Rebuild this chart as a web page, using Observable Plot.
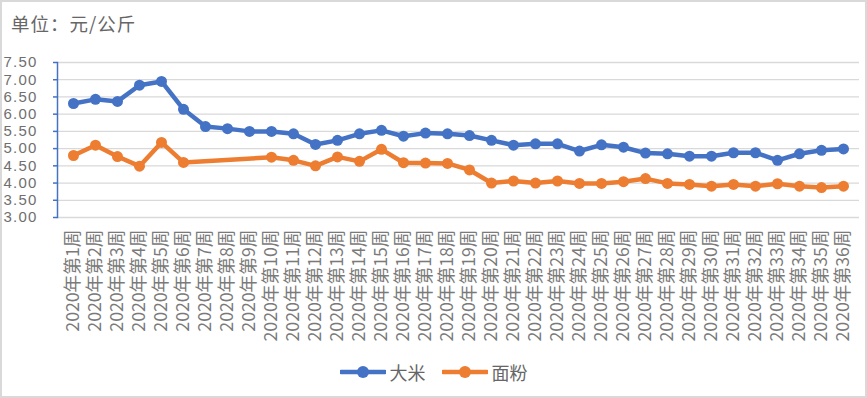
<!DOCTYPE html>
<html>
<head>
<meta charset="utf-8">
<script src="https://cdn.jsdelivr.net/npm/d3@7"></script>
<script src="https://cdn.jsdelivr.net/npm/@observablehq/plot@0.6"></script>
<style>
  html, body { margin: 0; padding: 0; background: #fff; }
  #wrap { position: relative; width: 867px; height: 398px; overflow: hidden; font-family: "Noto Sans CJK SC", sans-serif; color: #595959; }
  #border { position: absolute; left: 0; top: 0; width: 863px; height: 394px; border: 2px solid #d9d9d9; pointer-events: none; }
  #title { position: absolute; left: 11px; top: 14px; font-size: 18.5px; line-height: 18px; letter-spacing: 1px; color: #666; white-space: nowrap; }
  #chart { position: absolute; left: 0; top: 0; }
  #legend { position: absolute; left: 0; top: 359px; width: 867px; height: 26px; display: flex; justify-content: center; align-items: center; font-size: 18px; color: #666; gap: 16px; }
  .item { display: flex; align-items: center; gap: 4px; }
  .yax text { letter-spacing: 1.2px; }
</style>
</head>
<body>
<div id="wrap">
  <div id="chart"></div>
  <div id="title">单位：元/公斤</div>
  <div id="legend"></div>
  <div id="border"></div>
</div>
<script>
const weeks = ["2020年第1周","2020年第2周","2020年第3周","2020年第4周","2020年第5周","2020年第6周","2020年第7周","2020年第8周","2020年第9周","2020年第10周","2020年第11周","2020年第12周","2020年第13周","2020年第14周","2020年第15周","2020年第16周","2020年第17周","2020年第18周","2020年第19周","2020年第20周","2020年第21周","2020年第22周","2020年第23周","2020年第24周","2020年第25周","2020年第26周","2020年第27周","2020年第28周","2020年第29周","2020年第30周","2020年第31周","2020年第32周","2020年第33周","2020年第34周","2020年第35周","2020年第36周"];
const rice  = [6.31,6.43,6.37,6.84,6.95,6.14,5.64,5.58,5.50,5.50,5.43,5.12,5.24,5.43,5.53,5.36,5.45,5.43,5.38,5.24,5.10,5.14,5.14,4.93,5.11,5.04,4.87,4.85,4.78,4.78,4.88,4.88,4.66,4.85,4.95,4.99];
const flour = [4.80,5.10,4.77,4.49,5.18,4.60,null,null,null,4.75,4.66,4.50,4.76,4.63,4.98,4.59,4.58,4.57,4.38,4.00,4.06,4.00,4.06,3.99,3.99,4.04,4.13,3.99,3.96,3.91,3.96,3.91,3.98,3.91,3.87,3.91];
const yTicks = [3.0,3.5,4.0,4.5,5.0,5.5,6.0,6.5,7.0,7.5];
const seriesNames = ["大米","面粉"];
const colors = ["#4472C4","#ED7D31"];

const riceData = weeks.map((w,i) => ({week: w, v: rice[i]}));
const flourData = weeks.map((w,i) => ({week: w, v: flour[i]})).filter(d => d.v != null);

const chart = Plot.plot({
  width: 867,
  height: 360,
  marginLeft: 57,
  marginRight: 8,
  marginTop: 62,
  marginBottom: 143,
  style: {fontFamily: "'Noto Sans CJK SC', sans-serif", fontSize: "17.7px", color: "#777", background: "transparent"},
  x: {type: "band", domain: weeks, padding: 0, label: null},
  y: {domain: [3, 7.5], label: null},
  marks: [
    Plot.gridY(yTicks, {stroke: "#d9d9d9", strokeOpacity: 1, strokeWidth: 1.3}),
    Plot.axisY(yTicks, {tickSize: 0, tickPadding: 20, tickFormat: d => d.toFixed(2), fill: "#6f6f6f", label: null, fontFamily: "'Liberation Sans', sans-serif", fontSize: 15, className: "yax"}),
    Plot.axisY(yTicks, {tickSize: 4, stroke: "#4472C4", strokeWidth: 1.5, strokeOpacity: 1, fill: "none", label: null}),
    Plot.frame({anchor: "left", stroke: "#4472C4", strokeWidth: 1.5}),
    Plot.axisX({tickRotate: -90, tickSize: 0, tickPadding: 12, fill: "#7a7a7a", label: null, fontSize: 17.7}),
    Plot.line(riceData, {x: "week", y: "v", stroke: colors[0], strokeWidth: 4.5}),
    Plot.dot(riceData, {x: "week", y: "v", fill: colors[0], r: 5.5}),
    Plot.line(flourData, {x: "week", y: "v", stroke: colors[1], strokeWidth: 4.5}),
    Plot.dot(flourData, {x: "week", y: "v", fill: colors[1], r: 5.5})
  ]
});
document.getElementById("chart").appendChild(chart);

const legend = document.getElementById("legend");
seriesNames.forEach((name, i) => {
  const item = document.createElement("div");
  item.className = "item";
  item.innerHTML = `<svg width="46" height="14"><line x1="1" y1="7" x2="45" y2="7" stroke="${colors[i]}" stroke-width="4.5" stroke-linecap="round"/><circle cx="23" cy="7" r="6" fill="${colors[i]}"/></svg><span>${name}</span>`;
  legend.appendChild(item);
});
</script>
</body>
</html>
